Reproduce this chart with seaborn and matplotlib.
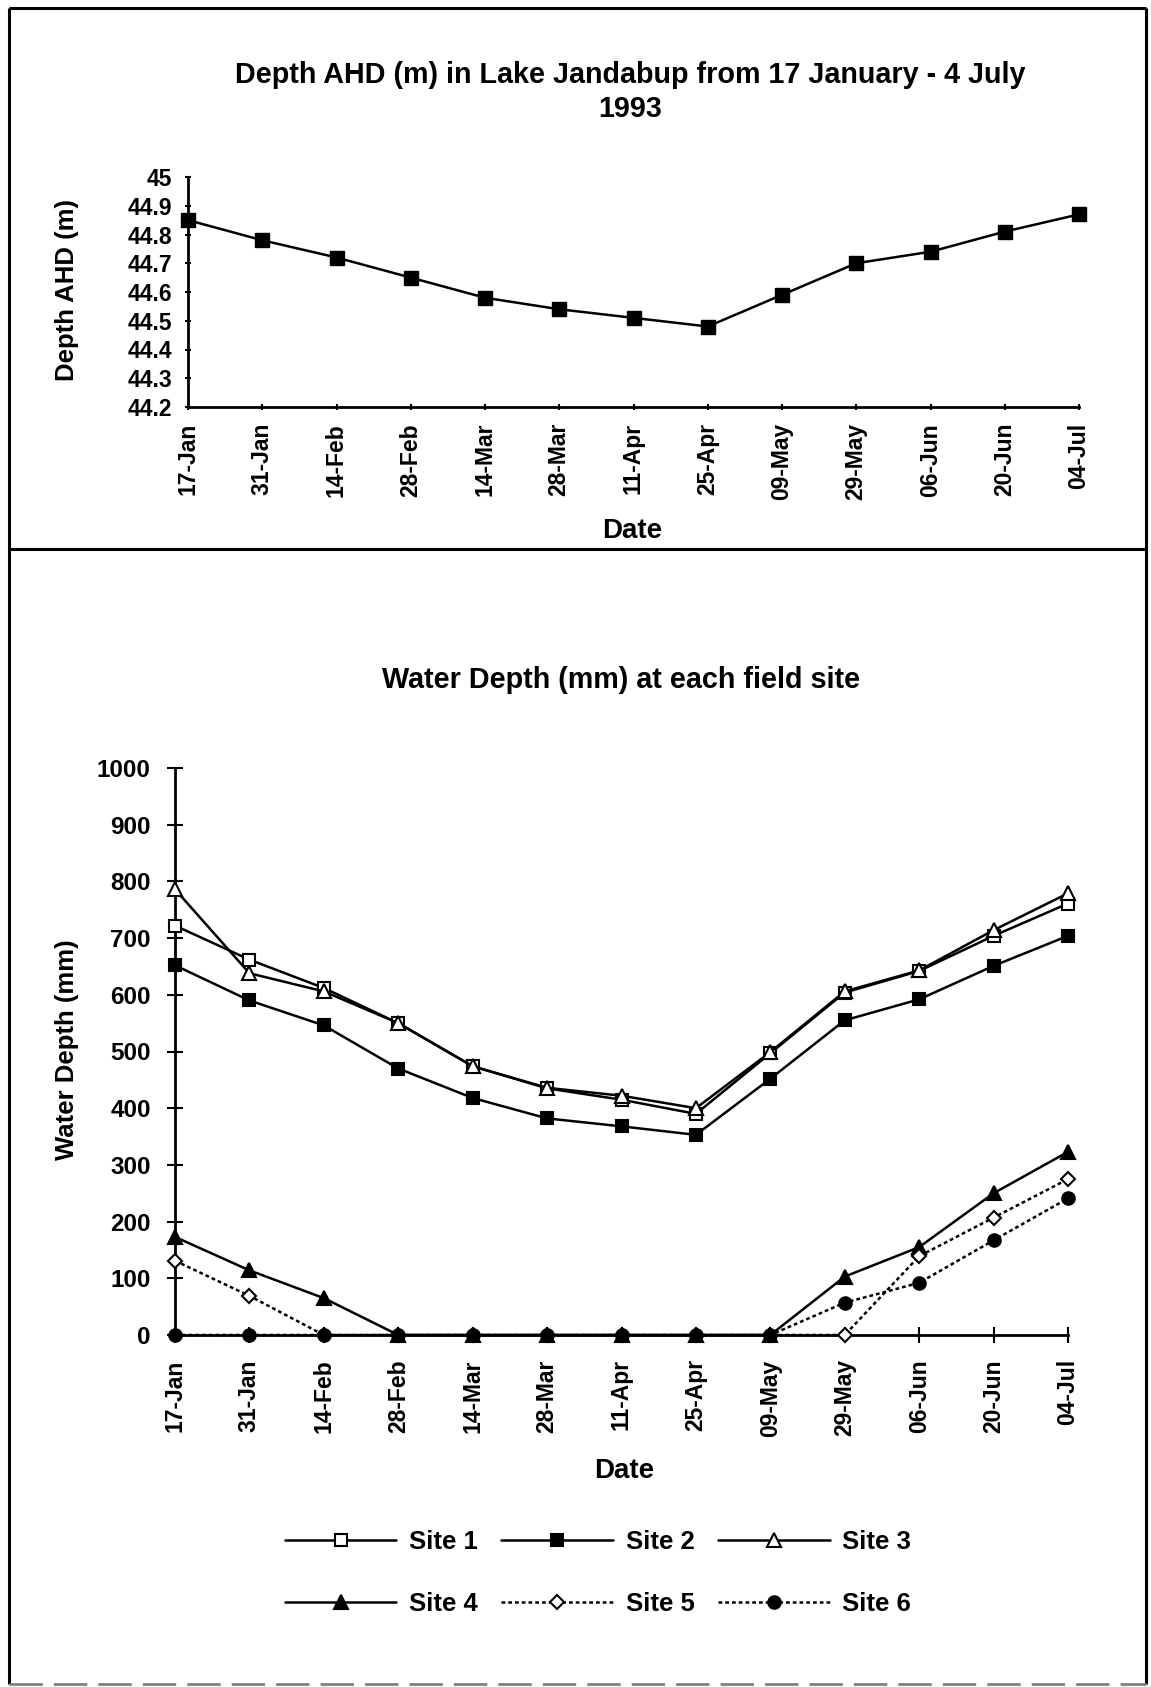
import matplotlib
matplotlib.use("Agg")
import matplotlib.pyplot as plt
from matplotlib.lines import Line2D
import seaborn as sns
import pandas as pd

# ---- data -------------------------------------------------------------
dates = ["17-Jan", "31-Jan", "14-Feb", "28-Feb", "14-Mar", "28-Mar", "11-Apr",
         "25-Apr", "09-May", "29-May", "06-Jun", "20-Jun", "04-Jul"]

depth_ahd = [44.85, 44.78, 44.72, 44.65, 44.58, 44.54, 44.51,
             44.48, 44.59, 44.70, 44.74, 44.81, 44.87]
ahd_ticks = [44.2, 44.3, 44.4, 44.5, 44.6, 44.7, 44.8, 44.9, 45.0]
ahd_tick_labels = ["44.2", "44.3", "44.4", "44.5", "44.6", "44.7", "44.8", "44.9", "45"]

site1 = [722, 662, 612, 550, 474, 435, 415, 390, 497, 604, 642, 704, 761]
site2 = [652, 590, 546, 470, 418, 382, 368, 353, 452, 555, 592, 651, 704]
site3 = [786, 638, 606, 550, 474, 436, 422, 400, 499, 606, 643, 714, 779]
site4 = [173, 114, 65, 0, 0, 0, 0, 0, 0, 103, 155, 250, 323]
site5 = [131, 69, 0, 0, 0, 0, 0, 0, 0, 0, 139, 207, 275]
site6 = [0, 0, 0, 0, 0, 0, 0, 0, 0, 57, 92, 167, 241]
depth_ticks = list(range(0, 1001, 100))

W, H = 1151, 1687


def fx(px):
    return px / W


def fy(py):
    return 1 - py / H


sns.set_style("ticks")
plt.rcParams["font.family"] = ["Liberation Sans", "DejaVu Sans"]
plt.rcParams["font.weight"] = "bold"
for key in ["text.color", "axes.labelcolor", "xtick.color", "ytick.color",
            "axes.edgecolor"]:
    plt.rcParams[key] = "black"

fig = plt.figure(figsize=(W / 100, H / 100), dpi=100)
fig.patch.set_facecolor("white")

TICK_FS = 16.5
YTICK2_FS = 17.5
AXLABEL_FS = 18.5
DATE_FS = 20
TITLE_FS = 20.7
LEGEND_FS = 18.5

# ---- panel frames ----------------------------------------------------
frame_kw = dict(color="black", lw=2.2, solid_capstyle="butt")
fig.add_artist(Line2D([fx(9), fx(1146)], [fy(8), fy(8)], **frame_kw))
fig.add_artist(Line2D([fx(9), fx(9)], [fy(8), fy(1684)], **frame_kw))
fig.add_artist(Line2D([fx(1146), fx(1146)], [fy(8), fy(1684)], **frame_kw))
fig.add_artist(Line2D([fx(9), fx(1146)], [fy(549), fy(549)], **frame_kw))
fig.add_artist(Line2D([fx(9), fx(1146)], [fy(1684), fy(1684)], color="0.5",
                      lw=2, linestyle=(0, (12, 4))))

x = list(range(len(dates)))

# ---- top panel: lake level ------------------------------------------
ax1 = fig.add_axes([fx(188), fy(407), fx(1079) - fx(188), fy(177) - fy(407)])
top_df = pd.DataFrame({"pos": x, "ahd": depth_ahd})
sns.lineplot(data=top_df, x="pos", y="ahd", ax=ax1, color="black", lw=1.8,
             marker="s", markersize=10, markerfacecolor="black",
             markeredgecolor="black", markeredgewidth=1, clip_on=False,
             legend=False, zorder=5)
ax1.set_xlim(0, len(dates) - 1)
ax1.set_ylim(44.2, 45.0)
ax1.set_yticks(ahd_ticks)
ax1.set_yticklabels(ahd_tick_labels)
ax1.set_xticks(x)
ax1.set_xticklabels(dates, rotation=90)
ax1.tick_params(axis="both", direction="inout", length=5, width=1.5,
                labelsize=TICK_FS, color="black", labelcolor="black")
ax1.tick_params(axis="y", pad=9)
ax1.tick_params(axis="x", pad=9)
for s in ["top", "right"]:
    ax1.spines[s].set_visible(False)
for s in ["left", "bottom"]:
    ax1.spines[s].set_linewidth(2)
    ax1.spines[s].set_color("black")
ax1.set_facecolor("none")
ax1.set_xlabel("Date", fontsize=DATE_FS, fontweight="bold")
ax1.set_ylabel("Depth AHD (m)", fontsize=AXLABEL_FS, fontweight="bold")
ax1.xaxis.set_label_coords(0.498, (407 - 531) / 230)
ax1.xaxis.label.set_verticalalignment("center")
ax1.yaxis.set_label_coords((67 - 188) / 891, 0.51)
ax1.yaxis.label.set_verticalalignment("center")

fig.text(fx(630), fy(92), "Depth AHD (m) in Lake Jandabup from 17 January - 4 July\n1993",
         ha="center", va="center", multialignment="center", fontsize=TITLE_FS,
         fontweight="bold", linespacing=1.3)

# ---- bottom panel: water depth at each site -------------------------
ax2 = fig.add_axes([fx(175), fy(1335), fx(1068) - fx(175), fy(768) - fy(1335)])
series = [
    ("Site 1", site1, "s", "white", "-", 9),
    ("Site 2", site2, "s", "black", "-", 9),
    ("Site 3", site3, "^", "white", "-", 10),
    ("Site 4", site4, "^", "black", "-", 10),
    ("Site 5", site5, "D", "white", (0, (1.5, 1.2)), 7.5),
    ("Site 6", site6, "o", "black", (0, (1.5, 1.2)), 9),
]
handles = {}
for name, vals, mk, face, ls, ms in series:
    df = pd.DataFrame({"pos": x, "depth": vals})
    sns.lineplot(data=df, x="pos", y="depth", ax=ax2, color="black", lw=1.8,
                 linestyle=ls, marker=mk, markersize=ms, markerfacecolor=face,
                 markeredgecolor="black", markeredgewidth=1.5, clip_on=False,
                 legend=False, label=name, zorder=5)
    handles[name] = ax2.lines[-1]
if ax2.get_legend() is not None:
    ax2.get_legend().remove()

ax2.set_xlim(0, len(dates) - 1)
ax2.set_ylim(0, 1000)
ax2.set_yticks(depth_ticks)
ax2.set_xticks(x)
ax2.set_xticklabels(dates, rotation=90)
ax2.tick_params(axis="both", direction="inout", length=11, width=1.5,
                labelsize=TICK_FS, color="black", labelcolor="black", pad=12)
ax2.tick_params(axis="y", labelsize=YTICK2_FS)
for s in ["top", "right"]:
    ax2.spines[s].set_visible(False)
for s in ["left", "bottom"]:
    ax2.spines[s].set_linewidth(2)
    ax2.spines[s].set_color("black")
ax2.set_facecolor("none")
ax2.set_xlabel("Date", fontsize=DATE_FS, fontweight="bold")
ax2.set_ylabel("Water Depth (mm)", fontsize=AXLABEL_FS, fontweight="bold")
ax2.xaxis.set_label_coords(0.503, (1335 - 1471) / 567)
ax2.xaxis.label.set_verticalalignment("center")
ax2.yaxis.set_label_coords((67 - 175) / 893, 0.504)
ax2.yaxis.label.set_verticalalignment("center")

fig.text(fx(621), fy(680), "Water Depth (mm) at each field site", ha="center",
         va="center", fontsize=TITLE_FS, fontweight="bold")

order = ["Site 1", "Site 4", "Site 2", "Site 5", "Site 3", "Site 6"]
fig.legend([handles[n] for n in order], order, ncol=3, loc="center",
           bbox_to_anchor=(fx(598), fy(1573)), frameon=False,
           prop={"weight": "bold", "size": LEGEND_FS}, handlelength=4.35,
           handletextpad=0.5, columnspacing=0.9, labelspacing=1.5)

fig.savefig("out.png", dpi=100, facecolor="white")
